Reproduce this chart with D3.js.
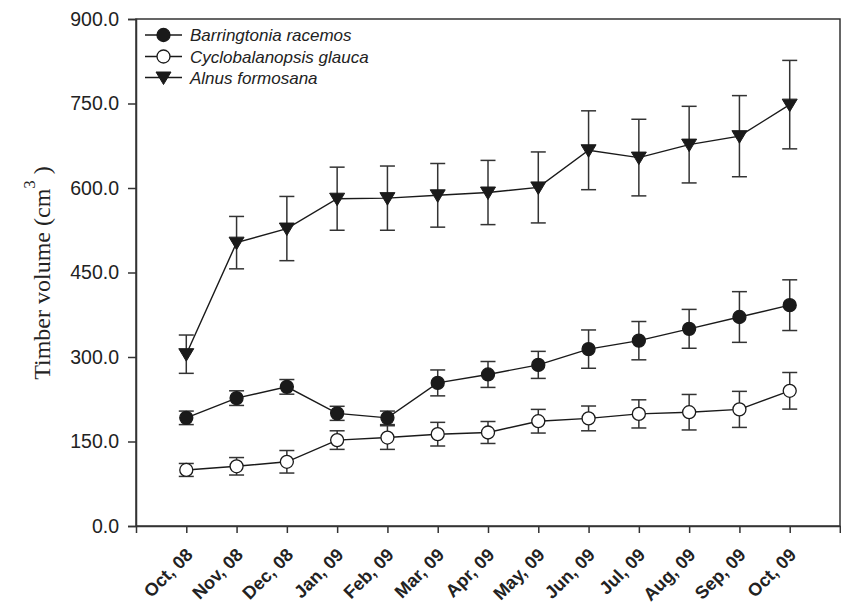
<!DOCTYPE html>
<html><head><meta charset="utf-8">
<script src="https://cdn.jsdelivr.net/npm/d3@7"></script>
<style>body{margin:0;background:#fff}svg{display:block}</style>
</head><body><svg id="c" width="841" height="604"></svg>
<script>
const months = ["Oct, 08","Nov, 08","Dec, 08","Jan, 09","Feb, 09","Mar, 09","Apr, 09","May, 09","Jun, 09","Jul, 09","Aug, 09","Sep, 09","Oct, 09"];
const barringtonia = [192,227,247,200,192,254,269,286,314,329,350,371,392];
const barringtoniaErr = [12,13,13,12.5,12,23,23,24,34,34,34.5,45,45];
const cyclobalanopsis = [99.5,106,114,152.5,157,163,166,186,191,199,202,207,240];
const cyclobalanopsisErr = [11.5,15.5,20,16.5,21,21,19.5,21,22,25,31.5,32,32.5];
const alnus = [305,503,528,581,582,587,592,601,667,654,677,692,748];
const alnusErr = [34,46.5,57,56,57,56.5,57,63,70,68,68,72,78.5];
const yTicks = [0,150,300,450,600,750,900];
const seriesNames = ["Barringtonia racemos","Cyclobalanopsis glauca","Alnus formosana"];

const svg = d3.select("#c");
const L = 136, R = 840, T = 19, B = 526;
const x = d3.scaleLinear().domain([-1, 13]).range([L, R]);
const y = d3.scaleLinear().domain([0, 900]).range([B, T]);
const ink = "#1a1a1a", axisCol = "#333";

// frame
svg.append("rect").attr("x", L).attr("y", T).attr("width", R - L).attr("height", B - T)
  .attr("fill", "none").attr("stroke", axisCol).attr("stroke-width", 1.5);

// y axis
const ya = svg.append("g").attr("transform", `translate(${L},0)`)
  .call(d3.axisLeft(y).tickValues(yTicks).tickFormat(d3.format(".1f")).tickSize(8).tickPadding(9));
ya.select(".domain").attr("stroke", axisCol).attr("stroke-width", 1.5);
ya.selectAll(".tick line").attr("stroke", axisCol).attr("stroke-width", 1.5);
ya.selectAll("text").attr("font-family", "Liberation Sans, Arial, sans-serif").attr("font-size", 19.5).attr("fill", "#222");

// x axis
const idx = d3.range(months.length);
const xa = svg.append("g").attr("transform", `translate(0,${B})`)
  .call(d3.axisBottom(x).tickValues(idx.concat([13])).tickFormat(i => months[i] || "").tickSize(7));
xa.select(".domain").attr("stroke", axisCol).attr("stroke-width", 1.5);
xa.selectAll(".tick line").attr("stroke", axisCol).attr("stroke-width", 1.5);
xa.selectAll("text")
  .attr("font-family", "Liberation Sans, Arial, sans-serif").attr("font-size", 18).attr("font-weight", "bold").attr("fill", "#222")
  .attr("text-anchor", "end").attr("dy", null).attr("x", 0).attr("y", 0)
  .attr("transform", "translate(7,30) rotate(-45)");

// y label
const yl = svg.append("text").attr("transform", "translate(50,273) rotate(-90)")
  .attr("text-anchor", "middle").attr("font-family", "Liberation Serif, Times New Roman, serif")
  .attr("font-size", 24).attr("fill", "#222");
yl.append("tspan").text("Timber volume (cm");
yl.append("tspan").attr("dy", -15).attr("font-size", 17).text("3");
yl.append("tspan").attr("dy", 15).text(" )");

const series = [
  {v: barringtonia, e: barringtoniaErr, type: "filled"},
  {v: cyclobalanopsis, e: cyclobalanopsisErr, type: "open"},
  {v: alnus, e: alnusErr, type: "tri"}
];
const line = d3.line().x((d, i) => x(i)).y(d => y(d));
const triPath = "M-7.5,-5.5L7.5,-5.5L0,7Z";

function marker(g, type) {
  if (type === "tri") g.append("path").attr("d", triPath).attr("fill", ink).attr("stroke", ink).attr("stroke-width", 1);
  else g.append("circle").attr("r", 6.5).attr("fill", type === "filled" ? ink : "#fff").attr("stroke", ink).attr("stroke-width", 1.3);
}

series.forEach(s => {
  svg.append("path").attr("d", line(s.v)).attr("fill", "none").attr("stroke", ink).attr("stroke-width", 1.4);
});
series.forEach(s => {
  const g = svg.append("g").attr("stroke", axisCol).attr("stroke-width", 1.5);
  s.v.forEach((v, i) => {
    const cx = x(i), y1 = y(v + s.e[i]), y0 = y(v - s.e[i]);
    g.append("line").attr("x1", cx).attr("x2", cx).attr("y1", y1).attr("y2", y0);
    g.append("line").attr("x1", cx - 7.5).attr("x2", cx + 7.5).attr("y1", y1).attr("y2", y1);
    g.append("line").attr("x1", cx - 7.5).attr("x2", cx + 7.5).attr("y1", y0).attr("y2", y0);
  });
});
series.forEach(s => {
  s.v.forEach((v, i) => {
    marker(svg.append("g").attr("transform", `translate(${x(i)},${y(v)})`), s.type);
  });
});

// legend
const legY = [35, 56.5, 77.5];
series.forEach((s, k) => {
  svg.append("line").attr("x1", 145).attr("x2", 182).attr("y1", legY[k]).attr("y2", legY[k]).attr("stroke", ink).attr("stroke-width", 1.4);
  marker(svg.append("g").attr("transform", `translate(163.5,${legY[k]})`), s.type);
  svg.append("text").attr("x", 190).attr("y", legY[k] + 6).attr("font-family", "Liberation Sans, Arial, sans-serif")
    .attr("font-size", 17).attr("font-style", "italic").attr("fill", "#222").text(seriesNames[k]);
});
</script></body></html>
